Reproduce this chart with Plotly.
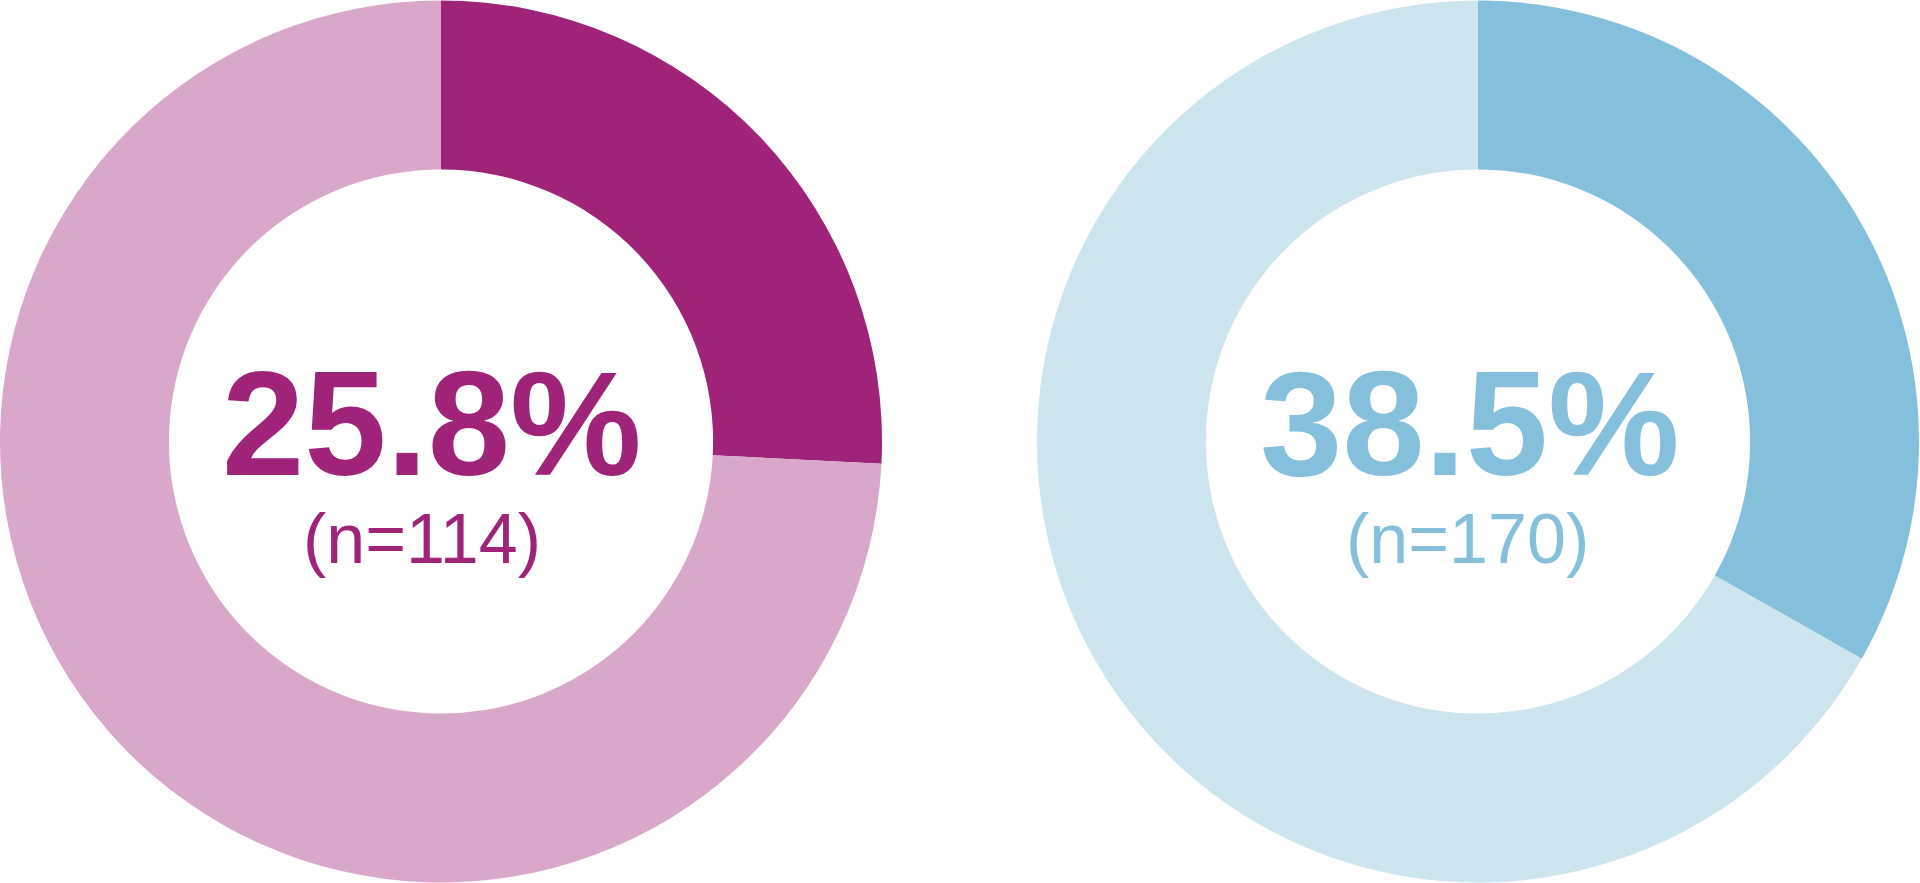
import plotly.graph_objects as go

# Data (slice sizes read from the drawn arcs; labels as printed)
groups = ["Group 1", "Group 2"]
slice_share = [25.8, 33.2]        # highlighted arc (%)
slice_rest = [74.2, 66.8]         # remaining arc (%)
pct_labels = ["25.8%", "38.5%"]
sample_n = [114, 170]
n_labels = ["(n=114)", "(n=170)"]

dark_colors = ["#9F2378", "#84C0DB"]
light_colors = ["#D9A7CA", "#CCE5EF"]

W, H = 1920, 883
FONT = "Liberation Sans, Arial, sans-serif"
domains = [[0.0, 882 / W], [1037 / W, 1919 / W]]
text_x = [432 / W, 1470 / W]
sub_x = [422 / W, 1467 / W]

fig = go.Figure()
for i in range(2):
    fig.add_trace(go.Pie(
        labels=["share", "rest"],
        values=[slice_share[i], slice_rest[i]],
        hole=0.617,
        sort=False,
        direction="clockwise",
        rotation=0,
        marker=dict(colors=[dark_colors[i], light_colors[i]], line=dict(width=0)),
        textinfo="none",
        hoverinfo="skip",
        domain=dict(x=domains[i], y=[0, 1]),
        showlegend=False,
    ))
    fig.add_annotation(
        x=text_x[i], y=1 - 423 / H, xref="paper", yref="paper",
        text=f"<b>{pct_labels[i]}</b>", showarrow=False,
        xanchor="center", yanchor="middle",
        font=dict(family=FONT, size=148, color=dark_colors[i]),
    )
    fig.add_annotation(
        x=sub_x[i], y=1 - 539 / H, xref="paper", yref="paper",
        text=n_labels[i], showarrow=False,
        xanchor="center", yanchor="middle",
        font=dict(family=FONT, size=70, color=dark_colors[i]),
    )

fig.update_layout(
    width=W, height=H,
    margin=dict(l=0, r=0, t=0, b=0),
    paper_bgcolor="white", plot_bgcolor="white",
    showlegend=False,
)

fig.write_html(
    "out.html",
    config={"displayModeBar": False},
    post_script="document.body.style.margin='0';document.body.style.overflow='hidden';",
)
